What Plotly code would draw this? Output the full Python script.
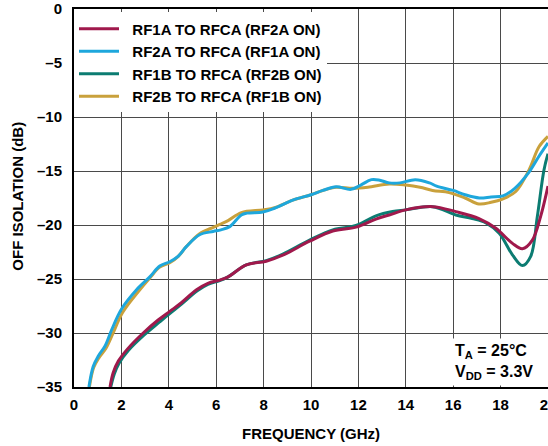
import plotly.graph_objects as go

# ---- data ----
f_rf1a = [1.52, 1.65, 1.87, 2.29, 2.92, 3.55, 4.04, 4.53, 5.17, 5.65, 6.15, 6.5, 7.27, 8.11, 8.81, 9.94, 10.92, 11.9, 12.74, 13.3, 14.0, 15.13, 16.11, 17.09, 17.8, 18.5, 18.92, 19.34, 19.69, 20.0]
db_rf1a = [-35, -33.7, -32.6, -31.4, -30.0, -28.8, -28.0, -27.2, -26.0, -25.4, -25.1, -24.8, -23.7, -23.35, -22.8, -21.5, -20.55, -20.2, -19.45, -19.07, -18.6, -18.3, -18.76, -19.4, -20.3, -21.7, -22.2, -21.4, -19.2, -16.4]

f_rf2a = [0.63, 0.81, 1.02, 1.31, 1.59, 2.0, 2.64, 3.2, 3.62, 4.04, 4.39, 4.74, 5.3, 5.87, 6.2, 6.57, 7.06, 7.3, 7.97, 8.46, 9.23, 10.0, 10.5, 11.06, 11.69, 12.1, 12.55, 12.9, 13.3, 13.75, 14.4, 15.0, 15.3, 16.0, 16.5, 17.1, 17.6, 18.1, 18.6, 19.2, 19.6, 20.0]
db_rf2a = [-35, -33.1, -32.15, -31.2, -29.7, -27.8, -26.0, -24.8, -23.8, -23.4, -22.9, -22.0, -20.9, -20.6, -20.45, -20.15, -19.07, -18.9, -18.8, -18.45, -17.7, -17.2, -16.8, -16.45, -16.7, -16.3, -15.8, -15.85, -16.1, -16.1, -15.8, -16.1, -16.4, -16.8, -17.2, -17.5, -17.4, -17.3, -16.6, -15.1, -13.7, -12.4]

f_rf1b = [1.55, 1.7, 1.9, 2.3, 2.95, 3.6, 4.04, 4.55, 5.2, 5.65, 6.15, 6.5, 7.27, 8.11, 8.81, 9.94, 10.92, 11.9, 12.74, 13.44, 14.0, 15.13, 16.11, 16.8, 17.38, 17.94, 18.5, 18.92, 19.27, 19.55, 19.83, 20.0]
db_rf1b = [-35, -33.8, -32.8, -31.6, -30.2, -29.0, -28.2, -27.3, -26.1, -25.5, -25.15, -24.8, -23.7, -23.3, -22.7, -21.4, -20.45, -20.05, -19.15, -18.75, -18.6, -18.3, -19.07, -19.4, -19.8, -20.76, -22.76, -23.75, -22.9, -19.2, -14.9, -13.4]

f_rf2b = [0.65, 0.83, 1.05, 1.35, 1.65, 2.05, 2.7, 3.2, 3.62, 4.04, 4.4, 4.74, 5.3, 5.9, 6.15, 6.5, 7.06, 7.97, 8.46, 9.23, 10.0, 10.5, 11.06, 11.76, 12.4, 13.3, 14.0, 14.6, 15.13, 15.83, 16.5, 17.09, 17.6, 18.08, 18.64, 19.2, 19.62, 20.0]
db_rf2b = [-35, -33.2, -32.3, -31.4, -30.0, -28.1, -26.2, -24.9, -23.9, -23.5, -22.9, -22.0, -20.8, -20.2, -19.95, -19.6, -18.85, -18.6, -18.4, -17.7, -17.2, -16.8, -16.5, -16.6, -16.5, -16.2, -16.3, -16.5, -16.8, -17.0, -17.5, -18.05, -17.9, -17.6, -16.9, -14.9, -12.76, -11.8]

series_names = ["RF1A TO RFCA (RF2A ON)", "RF2A TO RFCA (RF1A ON)",
                "RF1B TO RFCA (RF2B ON)", "RF2B TO RFCA (RF1B ON)"]
series_colors = ["#A0194C", "#1EA7DC", "#0C7C72", "#C9A13C"]

x_tick_vals = [0, 2, 4, 6, 8, 10, 12, 14, 16, 18, 20]
x_tick_labels = ["0", "2", "4", "6", "8", "10", "12", "14", "16", "18", "20"]
y_tick_vals = [-35, -30, -25, -20, -15, -10, -5, 0]
y_tick_labels = ["–35", "–30", "–25", "–20", "–15", "–10", "–5", "0"]

FONT = "Liberation Sans, Arial, sans-serif"
BOLD15 = dict(family=FONT, size=15, color="black", weight="bold")
NBSP = "\u00a0\u00a0"  # small gap between legend line sample and label

fig = go.Figure()
data = [(f_rf1a, db_rf1a), (f_rf2a, db_rf2a), (f_rf1b, db_rf1b), (f_rf2b, db_rf2b)]
draw_order = [2, 3, 0, 1]
for i in draw_order:
    fx, fy = data[i]
    fig.add_trace(go.Scatter(
        x=fx, y=fy, mode="lines", name=NBSP + series_names[i],
        line=dict(color=series_colors[i], width=3, shape="spline", smoothing=1.0),
        legendrank=i + 1,
    ))

fig.update_layout(
    width=548, height=446,
    margin=dict(l=74, r=0, t=9, b=59),
    paper_bgcolor="white", plot_bgcolor="white",
    font=BOLD15,
    showlegend=True,
    legend=dict(
        x=0.0, y=0.991, xanchor="left", yanchor="top",
        bgcolor="white", borderwidth=0,
        font=BOLD15, itemwidth=40,
    ),
    annotations=[
        dict(
            x=0.796, y=0.066, xref="paper", yref="paper",
            xanchor="left", yanchor="middle", align="left", showarrow=False,
            text="T<sub>A</sub> = 25°C<br>V<sub>DD</sub> = 3.3V",
            font=dict(family=FONT, size=16, color="black", weight="bold"),
            bgcolor="white", borderpad=3,
        ),
        dict(
            x=-0.119, y=0.505, xref="paper", yref="paper",
            xanchor="center", yanchor="middle", showarrow=False, textangle=-90,
            text="OFF ISOLATION (dB)", font=BOLD15,
        ),
        dict(
            x=0.5, y=-0.1217, xref="paper", yref="paper",
            xanchor="center", yanchor="middle", showarrow=False,
            text="FREQUENCY (GHz)", font=BOLD15,
        ),
    ],
)

fig.update_xaxes(
    range=[0, 20], tickvals=x_tick_vals, ticktext=x_tick_labels,
    showgrid=True, gridcolor="#4a4a4a", gridwidth=1,
    showline=True, linecolor="black", linewidth=2, mirror=True,
    zeroline=False, ticks="", ticklabelstandoff=3, automargin=False,
    ticklabeloverflow="allow",
    tickfont=BOLD15,
)
fig.update_yaxes(
    range=[-35, 0], tickvals=y_tick_vals, ticktext=y_tick_labels,
    showgrid=True, gridcolor="#4a4a4a", gridwidth=1,
    showline=True, linecolor="black", linewidth=2, mirror=True,
    zeroline=False, ticks="", ticklabelstandoff=7, automargin=False,
    ticklabeloverflow="allow",
    tickfont=BOLD15,
)

# remove the default 8px page margin so the figure sits at the window's top-left corner
fig.write_html("out.html", config={"displayModeBar": False},
               post_script="document.body.style.margin='0';")
